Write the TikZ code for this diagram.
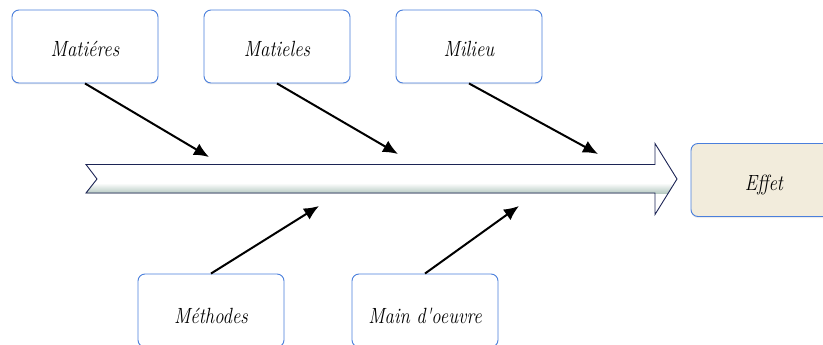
\documentclass[tikz,border=0pt]{standalone}
\usepackage{fontspec}
\usetikzlibrary{arrows.meta,shadows}
\definecolor{boxblue}{HTML}{4A7FDC}
\definecolor{effetfill}{HTML}{F2ECDC}
\definecolor{shaftline}{HTML}{1C2455}
\definecolor{shaftshade}{HTML}{B4C8C0}
\tikzset{
  cause/.style={draw=boxblue, line width=0.9pt, fill=white, rounded corners=7pt,
    minimum width=146pt, minimum height=73pt, inner sep=0pt,
    font=\fontsize{22}{25}\selectfont\itshape,
    drop shadow={opacity=0.15, shadow xshift=0pt, shadow yshift=-1.5pt}},
  effect/.style={cause, fill=effetfill},
  bone/.style={line width=2pt, -{Latex[length=15pt,width=13pt]}},
}
\newcommand{\sq}[2]{\raisebox{-#1pt}[0pt][0pt]{\scalebox{0.85}[1]{#2}}}
\begin{document}
\begin{tikzpicture}[x=1pt,y=-1pt]
\useasboundingbox (0,0) rectangle (823,345);
\clip (0,0) rectangle (823,345);
% spine arrow
\def\spine{(86,164.5) -- (655,164.5) -- (655,143.5) -- (677,179) -- (655,214.5) -- (655,193)
  -- (86,193) -- (97,179) -- cycle}
\fill[white] \spine;
\begin{scope}
  \clip \spine;
  \fill[top color=white, bottom color=shaftshade] (80,183) rectangle (672,193.5);
\end{scope}
\draw[shaftline, line width=0.9pt, line join=miter] \spine;
% boxes
\node[cause] (mat)  at (85,46.5)   {\sq{10.5}{Matiéres}};
\node[cause] (matl) at (277,46.5)  {\sq{10.5}{Matieles}};
\node[cause] (mil)  at (469,46.5)  {\sq{10.5}{Milieu}};
\node[effect] (eff) at (764,180)   {\sq{10.5}{Effet}};
\node[cause] (meth) at (211,310.5) {\sq{13}{Méthodes}};
\node[cause] (mo)   at (425,310.5) {\sq{13}{Main d\textquotesingle oeuvre}};
% tips
\coordinate (t1) at (209,157);
\coordinate (t2) at (398,154);
\coordinate (t3) at (598,154);
\coordinate (t4) at (319,206);
\coordinate (t5) at (519,206);
\draw[bone] (mat.south) -- (t1);
\draw[bone] (matl.south) -- (t2);
\draw[bone] (mil.south) -- (t3);
\draw[bone] (meth.north) -- (t4);
\draw[bone] (mo.north) -- (t5);
\end{tikzpicture}
\end{document}
